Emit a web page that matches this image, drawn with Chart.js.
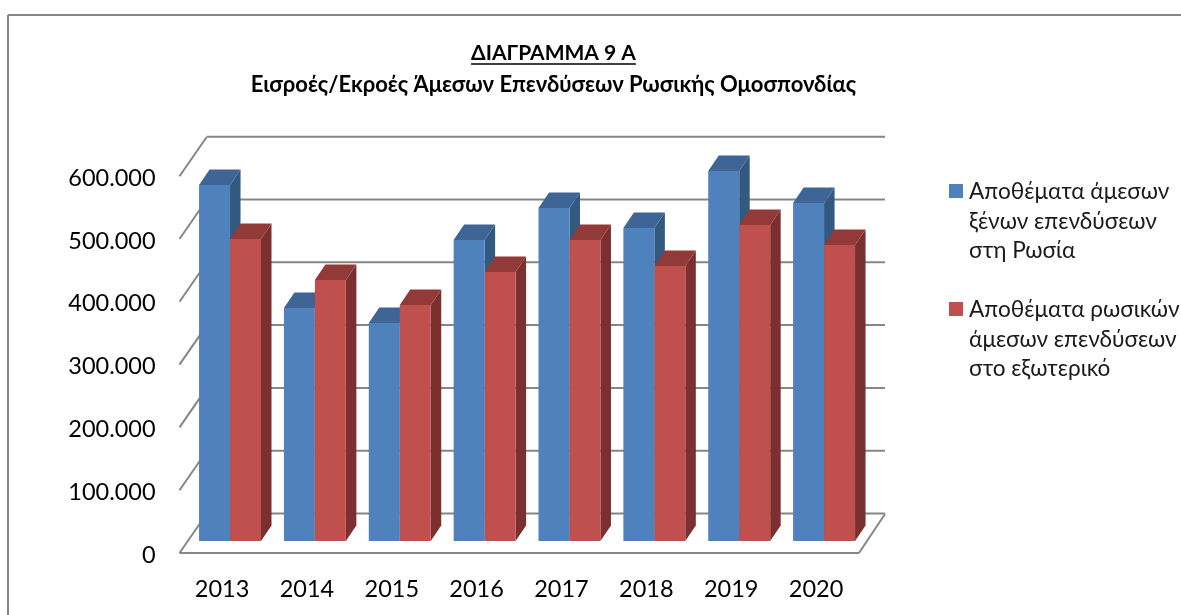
<!DOCTYPE html>
<html lang="el">
<head>
<meta charset="utf-8">
<title>Διάγραμμα 9 Α</title>
<script src="https://cdn.jsdelivr.net/npm/chart.js@4"></script>
<style>
html,body{margin:0;padding:0;background:#fff;overflow:hidden;}
canvas{display:block;}
</style>
</head>
<body>
<canvas id="chart" width="1181" height="615"></canvas>
<script>
/* DATA */
const years = ["2013","2014","2015","2016","2017","2018","2019","2020"];
const inwardStock = [566900,371000,347100,479300,530300,498400,589200,538200];
const outwardStock = [480900,415600,375800,428300,479300,437900,503200,471300];
const titleLines = ["ΔΙΑΓΡΑΜΜΑ 9 Α","Εισροές/Εκροές Άμεσων Επενδύσεων Ρωσικής Ομοσπονδίας"];
const inwardLegend = ["Αποθέματα άμεσων","ξένων επενδύσεων","στη Ρωσία"];
const outwardLegend = ["Αποθέματα ρωσικών","άμεσων επενδύσεων","στο εξωτερικό"];

const FONT = "Lato, 'Open Sans', sans-serif";
const GRID = "#868686";
const DEPTH_X = 10.5, DEPTH_Y = 15.5;
const colors = [
    {front:"#4f81bd", top:"#3e6595", side:"#325980"},
    {front:"#c0504d", top:"#913a38", side:"#7b2f2e"}
];

function line(ctx,x1,y1,x2,y2){
    ctx.beginPath();
    ctx.moveTo(x1,y1);
    ctx.lineTo(x2,y2);
    ctx.stroke();
}

function poly(ctx,pts,fill){
    ctx.beginPath();
    pts.forEach((p,i)=>i?ctx.lineTo(p[0],p[1]):ctx.moveTo(p[0],p[1]));
    ctx.closePath();
    ctx.fillStyle=fill;
    ctx.fill();
}

/* walls and the 3d faces go under the bars */
const box3d = {
    id:"box3d",
    beforeDatasetsDraw(chart){
        const ctx=chart.ctx, y=chart.scales.y;
        ctx.save();
        ctx.strokeStyle=GRID;
        ctx.lineWidth=2;
        y.ticks.forEach(t=>{
            const p=y.getPixelForValue(t.value);
            line(ctx,179.5,p+12,206.5,p-27);
            line(ctx,206.5,p-27.5,885,p-27.5);
        });
        const p0=y.getPixelForValue(0);
        line(ctx,179.5,p0+12,859,p0+12);
        line(ctx,859,p0+12,885,p0-27);

        years.forEach((_,j)=>{
            [0,1].forEach(i=>{
                const b=chart.getDatasetMeta(i).data[j];
                const l=b.x-b.width/2, r=b.x+b.width/2;
                poly(ctx,[[r,b.y],[r+DEPTH_X,b.y-DEPTH_Y],[r+DEPTH_X,b.base-DEPTH_Y],[r,b.base]],colors[i].side);
                poly(ctx,[[l,b.y],[l+DEPTH_X,b.y-DEPTH_Y],[r+DEPTH_X,b.y-DEPTH_Y],[r,b.y]],colors[i].top);
            });
        });
        ctx.restore();
    }
};

/* frame, title and legend */
const texts = {
    id:"texts",
    afterDraw(chart){
        const ctx=chart.ctx;
        ctx.save();
        ctx.strokeStyle=GRID;
        ctx.lineWidth=2;
        line(ctx,8,615,8,15);
        line(ctx,8,15,1181,15);

        ctx.fillStyle="#000";
        ctx.textBaseline="middle";
        ctx.textAlign="center";
        ctx.font="bold 21px "+FONT;
        ctx.fillText(titleLines[0],553.5,53);
        const w=ctx.measureText(titleLines[0]).width;
        ctx.strokeStyle="#000";
        ctx.lineWidth=1.5;
        line(ctx,553.5-w/2,64,553.5+w/2,64);
        ctx.font="bold 22px "+FONT;
        ctx.fillText(titleLines[1],553.5,85);

        ctx.textAlign="left";
        ctx.font="22.6px "+FONT;
        [[inwardLegend,192,colors[0].front],[outwardLegend,310,colors[1].front]].forEach(g=>{
            ctx.fillStyle=g[2];
            ctx.fillRect(949,g[1]-8,14,14);
            ctx.fillStyle="#1a1a1a";
            g[0].forEach((s,k)=>ctx.fillText(s,969,g[1]+k*29.5));
        });
        ctx.restore();
    }
};

new Chart(document.getElementById("chart"),{
    type:"bar",
    data:{
        labels:years,
        datasets:[
            {label:"Αποθέματα άμεσων ξένων επενδύσεων στη Ρωσία",data:inwardStock,backgroundColor:colors[0].front},
            {label:"Αποθέματα ρωσικών άμεσων επενδύσεων στο εξωτερικό",data:outwardStock,backgroundColor:colors[1].front}
        ]
    },
    options:{
        responsive:false,
        animation:false,
        layout:{padding:{top:164.2,right:314.5,bottom:0,left:0}},
        plugins:{legend:{display:false},title:{display:false},tooltip:{enabled:false}},
        datasets:{bar:{categoryPercentage:0.73,barPercentage:1,borderWidth:0}},
        scales:{
            x:{
                grid:{display:false,drawTicks:false},
                border:{display:false},
                afterFit(s){s.height=74;},
                ticks:{color:"#000",font:{family:FONT,size:23.5},padding:34,labelOffset:-8,maxRotation:0}
            },
            y:{
                min:0,
                max:600000,
                grid:{display:false,drawTicks:false},
                border:{display:false},
                afterFit(s){s.width=187.6;},
                ticks:{
                    stepSize:100000,
                    color:"#000",
                    font:{family:FONT,size:23.5},
                    padding:32,
                    labelOffset:14,
                    callback:v=>String(v).replace(/\B(?=(\d{3})+$)/g,".")
                }
            }
        }
    },
    plugins:[box3d,texts]
});
</script>
</body>
</html>
